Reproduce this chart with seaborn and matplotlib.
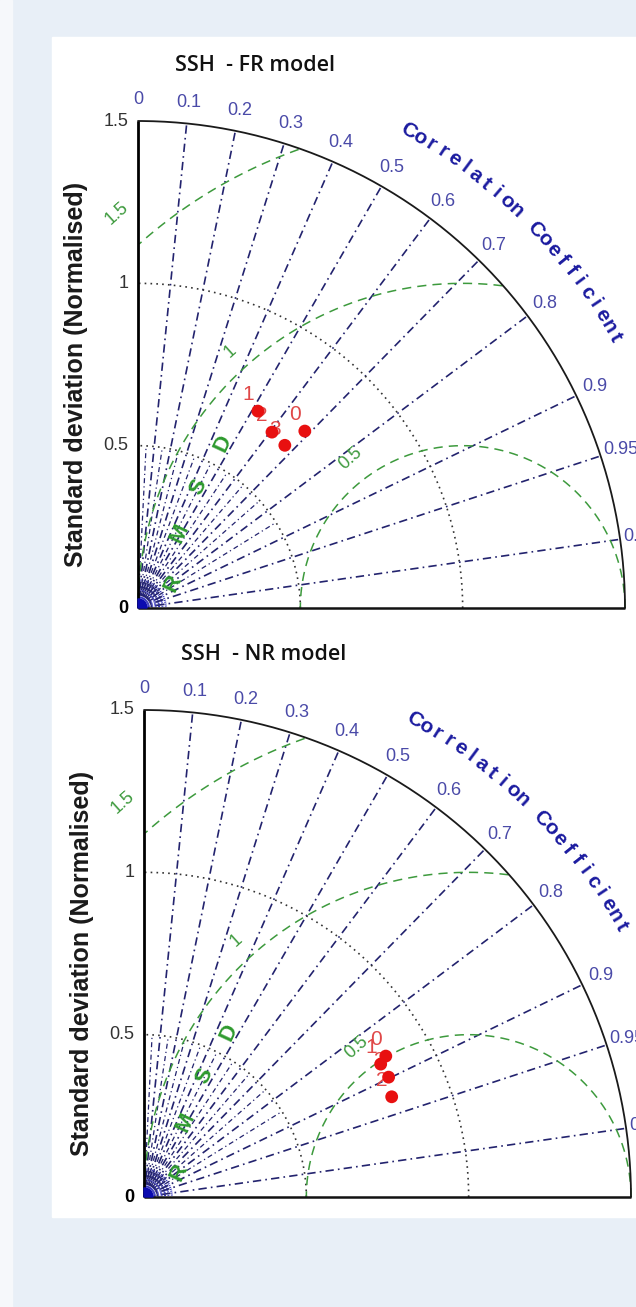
import numpy as np
import pandas as pd
import seaborn as sns
import matplotlib.pyplot as plt
from matplotlib.patches import Rectangle, Wedge

# --- data ---
titles = ['SSH  - FR model', 'SSH  - NR model']
model_ids = ['0', '1', '2', '3']
fr_std = [0.749, 0.710, 0.681, 0.675]
fr_corr = [0.686, 0.520, 0.606, 0.670]
nr_std = [0.862, 0.836, 0.823, 0.839]
nr_corr = [0.864, 0.872, 0.927, 0.898]

corr_ticks = [0, 0.1, 0.2, 0.3, 0.4, 0.5, 0.6, 0.7, 0.8, 0.9, 0.95, 0.99]
corr_labels = ['0', '0.1', '0.2', '0.3', '0.4', '0.5', '0.6', '0.7', '0.8', '0.9', '0.95', '0.99']
corr_minor = [0.05, 0.15, 0.25, 0.35, 0.45, 0.55, 0.65, 0.75, 0.85]
std_ticks = [0, 0.5, 1, 1.5]
std_labels = ['0', '0.5', '1', '1.5']
std_grid = [0.5, 1.0]
rmsd_levels = [0.5, 1.0, 1.5]
rmsd_labels = ['0.5', '1', '1.5']

sns.set_theme(style='white')
plt.rcParams['font.family'] = ['Liberation Sans', 'DejaVu Sans']

NAVY = '#23236e'
GREEN = '#3d9a3d'
TICKBLUE = '#4a4aa8'
RMAX = 1.5

W, H = 636, 1307
fig = plt.figure(figsize=(W / 100, H / 100), dpi=100)
fig.patch.set_facecolor('#e8eff7')
fig.add_artist(Rectangle((0, 0), 12 / W, 1, transform=fig.transFigure, color='#f6f8fb', zorder=0))
fig.add_artist(Rectangle((52 / W, 1 - 1217 / H), 1 - 52 / W, (1217 - 37) / H,
                         transform=fig.transFigure, color='white', zorder=0))


def draw_taylor(ax, std, corr, title):
    ax.set_xlim(0, RMAX)
    ax.set_ylim(0, RMAX)
    ax.set_aspect('equal')
    ax.axis('off')
    ax.patch.set_alpha(0)

    # dense fan + blob at origin
    for a in np.deg2rad(np.arange(4, 90, 4)):
        ax.plot([0.02 * np.cos(a), 0.09 * np.cos(a)], [0.02 * np.sin(a), 0.09 * np.sin(a)],
                color='#2a2ab8', lw=0.7, ls=(0, (2, 1.5)), clip_on=False)
    ax.add_patch(Wedge((0, 0), 0.028, 0, 90, color='#0b0bb0', zorder=4, clip_on=False))

    # correlation rays
    for c in corr_ticks[1:]:
        a = np.arccos(c)
        ax.plot([0, RMAX * np.cos(a)], [0, RMAX * np.sin(a)], color=NAVY, lw=1.2,
                ls=(0, (5, 2.5, 1, 2.5)), clip_on=False)
    for c in corr_minor:
        a = np.arccos(c)
        ax.plot([0, 0.5 * np.cos(a)], [0, 0.5 * np.sin(a)], color=NAVY, lw=0.9,
                ls=(0, (4, 2.5, 1, 2.5)), clip_on=False)

    # std dotted arcs
    t = np.linspace(0, np.pi / 2, 200)
    for r in std_grid:
        ax.plot(r * np.cos(t), r * np.sin(t), color='#333333', lw=1.2, ls=(0, (1, 2.5)), clip_on=False)

    # rmsd arcs centred on the reference (1, 0)
    phi = np.linspace(0, np.pi, 600)
    for r in rmsd_levels:
        x = 1 + r * np.cos(phi)
        y = r * np.sin(phi)
        keep = (x >= 0) & (x ** 2 + y ** 2 <= RMAX ** 2 + 1e-9)
        ax.plot(x[keep], y[keep], color=GREEN, lw=1.1, ls=(0, (6, 4)), clip_on=False)
    rmsd_pos = [(0.655, 0.46), (0.285, 0.79), (-0.065, 1.215)]
    for lab, (x, y) in zip(rmsd_labels, rmsd_pos):
        ax.text(x, y, lab, color=GREEN, fontsize=13, rotation=42, ha='center', va='center', clip_on=False)
    for ch, (x, y) in zip('RMSD', [(0.108, 0.077), (0.129, 0.231), (0.185, 0.372), (0.262, 0.508)]):
        ax.text(x, y, ch, color='#2e9a2e', fontsize=16, fontweight='bold', rotation=65,
                ha='center', va='center', clip_on=False)

    # outer arc and axes lines
    ax.plot(RMAX * np.cos(t), RMAX * np.sin(t), color='#1a1a1a', lw=1.3, clip_on=False)
    ax.plot([0, 0], [0, RMAX], color='black', lw=2.0, clip_on=False, solid_capstyle='butt')
    ax.plot([0, RMAX], [0, 0], color='#111111', lw=1.8, clip_on=False, solid_capstyle='butt')

    # correlation tick labels
    for c, lab in zip(corr_ticks, corr_labels):
        a = np.arccos(c)
        ax.text(1.565 * np.cos(a), 1.565 * np.sin(a), lab, color=TICKBLUE, fontsize=13,
                ha='center', va='center', clip_on=False)

    # curved axis title
    word = 'Correlation Coefficient'
    for ch, ang in zip(word, np.linspace(60.5, 29.5, len(word))):
        a = np.deg2rad(ang)
        ax.text(1.69 * np.cos(a), 1.69 * np.sin(a), ch, color='#1c1ca0', fontsize=15,
                fontweight='bold', rotation=ang - 90, rotation_mode='anchor',
                ha='center', va='center', clip_on=False)

    # std tick labels
    for v, lab in zip(std_ticks, std_labels):
        ax.text(-0.03, v, lab, ha='right', va='center', fontsize=13,
                color='black' if v == 0 else '#333333',
                fontweight='bold' if v == 0 else 'normal', clip_on=False)
    ax.text(-0.19, 0.72, 'Standard deviation (Normalised)', rotation=90, ha='center', va='center',
            fontsize=18, fontweight='bold', color='#1a1a1a', clip_on=False)

    ax.text(0.115, 1.671, title, ha='left', va='center', fontsize=15.5, family=['Open Sans', 'DejaVu Sans'],
            fontweight='semibold', color='#111111', clip_on=False)

    # models
    ang = np.arccos(np.array(corr))
    df = pd.DataFrame({'x': np.array(std) * np.cos(ang), 'y': np.array(std) * np.sin(ang), 'id': model_ids})
    for _, row in df.iterrows():
        ax.text(row['x'] - 0.03, row['y'] + 0.05, row['id'], color='#e04848', fontsize=15,
                ha='center', va='center', zorder=5, clip_on=False)
    sns.scatterplot(data=df, x='x', y='y', ax=ax, color='#e81010', s=85, edgecolor='none',
                    zorder=6, clip_on=False, legend=False)
    ax.set_xlabel('')
    ax.set_ylabel('')


ax1 = fig.add_axes([138 / W, (H - 608) / H, 487 / W, 487 / H])
draw_taylor(ax1, fr_std, fr_corr, titles[0])
ax2 = fig.add_axes([144 / W, (H - 1197) / H, 487 / W, 487 / H])
draw_taylor(ax2, nr_std, nr_corr, titles[1])

fig.savefig('out.png', dpi=100, facecolor=fig.get_facecolor())
